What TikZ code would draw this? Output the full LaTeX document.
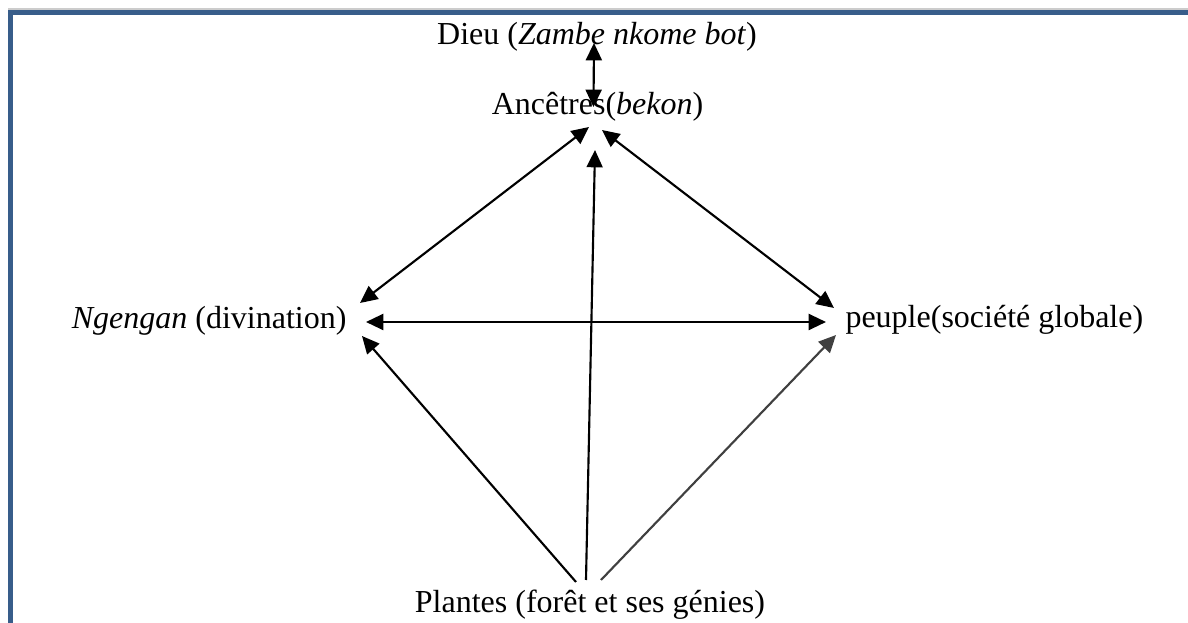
\documentclass[tikz,border=0pt]{standalone}
\usepackage{fontspec}
\setmainfont{Liberation Serif}
\usetikzlibrary{arrows.meta, calc}
\definecolor{frameblue}{HTML}{385D8A}

\begin{document}
\begin{tikzpicture}[
    x=0.375pt, y=-0.375pt,
    term/.style={inner sep=0pt, font=\fontsize{12}{14}\selectfont},
    link/.style={line width=0.8pt, {Triangle[length=6.5pt,width=6pt]}-{Triangle[length=6.5pt,width=6pt]}},
    oneway/.style={line width=0.8pt, -{Triangle[length=6.5pt,width=6pt]}},
    frame/.style={draw=frameblue, line width=1.9pt}
]
    \useasboundingbox (0,0) rectangle (1188,623);

    % --- Frame (top and left) ---
    \draw[gray!40, line width=0.4pt] (8,9) -- (1188,9);
    \draw[frame] (10.5,623) -- (10.5,12.5) -- (1188,12.5);

    % --- Terms ---
    \node[term, anchor=base] (dieu) at (597,45) {Dieu (\textit{Zambe nkome bot})};
    \node[term, anchor=base] (anc) at (597.5,115) {Ancêtres(\textit{bekon})};
    \node[term, anchor=base east] (ngen) at (347,329) {\textit{Ngengan} (divination)};
    \node[term, anchor=base west] (peuple) at (845,328) {peuple(société globale)};
    \node[term, anchor=base] (plantes) at (590,613) {Plantes (forêt et ses génies)};

    % --- Two-way links ---
    \draw[link] ($(dieu.base)+(-3,-2)$) -- ($(anc.base)+(-4,-8)$);
    \draw[link] ($(anc.base)+(-8.5,12)$) -- ($(ngen.base east)+(13,-26)$);
    \draw[link] ($(anc.base)+(4.5,15)$) -- ($(peuple.base west)+(-11,-20)$);
    \draw[link] ($(ngen.base east)+(19,-7)$) -- ($(peuple.base west)+(-19,-6)$);

    % --- Links from the plants ---
    \draw[oneway] ($(plantes.base)+(-4,-33)$) -- ($(anc.base)+(-2.5,35)$);
    \draw[oneway] ($(plantes.base)+(-14,-31)$) -- ($(ngen.base east)+(15,7)$);
    \draw[oneway, black!75] ($(plantes.base)+(11,-33)$) -- ($(peuple.base west)+(-9,7)$);

\end{tikzpicture}
\end{document}
